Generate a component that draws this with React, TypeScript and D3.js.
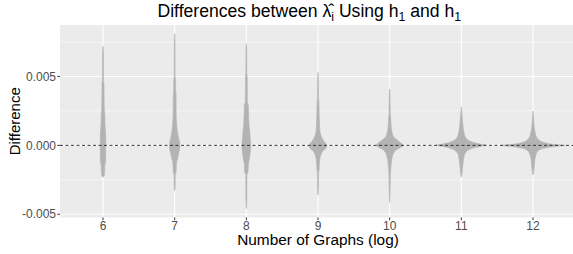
import React from "react";
import * as d3 from "d3";

// ---- data ----
const categories = ["6", "7", "8", "9", "10", "11", "12"];
const yTicks = [-0.005, 0, 0.005];
const yTickLabels = ["-0.005", "0.000", "0.005"];
const yMinorTicks = [-0.0025, 0.0025, 0.0075];

// violin profiles: [difference (x1e-3), relative density]
const violin6: [number, number][] = [[7.2,0],[6.8,0.9],[5.5,1.1],[4.7,1.2],[4.5,2.0],[3.5,2.2],[2.6,2.6],[2.2,3.6],[1.5,4.0],[1.2,4.8],[0.5,5.5],[-0.3,5.5],[-1.2,5.2],[-1.4,3.6],[-2.0,3.2],[-2.25,2.0],[-2.3,0]];
const violin7: [number, number][] = [[8.1,0],[7.5,0.8],[5.0,0.9],[4.7,1.8],[3.9,2.0],[3.7,2.8],[2.2,3.0],[1.6,4.0],[1.0,5.5],[0.6,7.5],[0.2,10.0],[-0.1,10.5],[-0.5,8.5],[-1.0,5.5],[-1.3,3.5],[-2.0,2.8],[-2.1,1.2],[-3.0,1.0],[-3.3,0]];
const violin8: [number, number][] = [[7.4,0],[7.0,0.8],[5.2,1.0],[5.0,1.8],[3.1,2.0],[3.0,3.8],[2.2,4.5],[1.4,5.5],[1.0,6.8],[0.4,8.0],[-0.1,9.0],[-0.6,7.5],[-1.1,5.5],[-1.3,4.2],[-2.0,3.2],[-2.1,1.2],[-4.0,1.0],[-4.6,0]];
const violin9: [number, number][] = [[5.3,0],[4.8,0.8],[3.4,1.0],[3.2,1.8],[2.0,2.5],[1.0,4.0],[0.6,7.0],[0.35,11.0],[0.15,15.0],[0.0,17.5],[-0.2,16.0],[-0.45,9.0],[-0.7,5.5],[-1.2,3.0],[-1.8,2.0],[-2.0,1.2],[-3.2,0.9],[-3.6,0]];
const violin10: [number, number][] = [[4.1,0],[3.6,0.8],[2.2,1.2],[2.0,2.2],[1.35,3.0],[0.9,5.0],[0.6,8.0],[0.3,18.0],[0.1,25.0],[0.0,27.0],[-0.1,24.0],[-0.3,14.0],[-0.55,8.0],[-0.8,5.5],[-1.2,3.5],[-1.6,2.5],[-2.0,1.5],[-3.5,0.9],[-4.15,0]];
const violin11: [number, number][] = [[2.8,0],[2.4,1.0],[1.6,2.8],[1.2,4.0],[0.9,5.5],[0.6,8.0],[0.4,13.0],[0.2,25.0],[0.08,40.0],[0.02,50.0],[-0.05,42.0],[-0.15,28.0],[-0.3,16.0],[-0.55,8.0],[-0.8,5.5],[-1.2,3.8],[-1.6,2.5],[-2.0,1.5],[-2.3,0]];
const violin12: [number, number][] = [[2.5,0],[2.1,1.0],[1.4,2.2],[0.9,4.5],[0.6,7.0],[0.4,11.0],[0.2,22.0],[0.1,35.0],[0.03,55.0],[0.0,64.5],[-0.05,50.0],[-0.12,35.0],[-0.25,18.0],[-0.45,9.0],[-0.8,5.0],[-1.2,3.2],[-1.5,2.5],[-1.9,1.3],[-2.15,0]];
const violins = [violin6, violin7, violin8, violin9, violin10, violin11, violin12];

const W = 573, H = 254;
const M = { left: 60, top: 25, right: 576, bottom: 217.5 };
const FONT = "'Liberation Sans', Arial, sans-serif";

export default function App() {
  const x = d3.scaleLinear().domain([0.4, categories.length + 0.6]).range([M.left, M.right]);
  const allV = violins.flat().map((d) => d[0] / 1000);
  const [lo, hi] = d3.extent(allV) as [number, number];
  const pad = (hi - lo) * 0.05;
  const y = d3.scaleLinear().domain([lo - pad, hi + pad]).range([M.bottom, M.top]);
  const maxD = d3.max(violins.flat(), (d) => d[1]) as number;
  const band = x(2) - x(1);
  const w = d3.scaleLinear().domain([0, maxD]).range([0, band * 0.45]);

  const area = (cx: number) =>
    d3
      .area<[number, number]>()
      .y((d) => y(d[0] / 1000))
      .x0((d) => cx - w(d[1]))
      .x1((d) => cx + w(d[1]))
      .curve(d3.curveMonotoneY);

  return (
    <svg width={W} height={H} style={{ position: "fixed", left: 0, top: 0, background: "#fff" }} fontFamily={FONT}>
      <defs>
        <clipPath id="panel">
          <rect x={M.left} y={M.top} width={M.right - M.left} height={M.bottom - M.top} />
        </clipPath>
      </defs>
      <rect x={M.left} y={M.top} width={M.right - M.left} height={M.bottom - M.top} fill="#EBEBEB" />
      <g clipPath="url(#panel)">
        {yMinorTicks.map((t) => (
          <line key={"mn" + t} x1={M.left} x2={M.right} y1={y(t)} y2={y(t)} stroke="#fff" strokeWidth={0.55} />
        ))}
        {yTicks.map((t) => (
          <line key={"mj" + t} x1={M.left} x2={M.right} y1={y(t)} y2={y(t)} stroke="#fff" strokeWidth={1.1} />
        ))}
        {categories.map((c, i) => (
          <line key={"vx" + c} x1={x(i + 1)} x2={x(i + 1)} y1={M.top} y2={M.bottom} stroke="#fff" strokeWidth={1.1} />
        ))}
        {violins.map((v, i) => (
          <path key={"v" + i} d={area(x(i + 1))(v) || ""} fill="#B3B3B3" stroke="#B3B3B3" strokeWidth={0.6} />
        ))}
        <line x1={M.left} x2={M.right} y1={y(0)} y2={y(0)} stroke="#222" strokeWidth={0.9} strokeDasharray="3 2.5" />
      </g>
      {/* y axis */}
      {yTicks.map((t, i) => (
        <g key={"yt" + t}>
          <line x1={M.left - 2.7} x2={M.left} y1={y(t)} y2={y(t)} stroke="#333" strokeWidth={1} />
          <text x={M.left - 4} y={y(t)} dy="0.35em" textAnchor="end" fontSize={12} fill="#4D4D4D">
            {yTickLabels[i]}
          </text>
        </g>
      ))}
      {/* x axis */}
      {categories.map((c, i) => (
        <g key={"xt" + c}>
          <line x1={x(i + 1)} x2={x(i + 1)} y1={M.bottom} y2={M.bottom + 2.7} stroke="#333" strokeWidth={1} />
          <text x={x(i + 1)} y={229.5} textAnchor="middle" fontSize={12} fill="#4D4D4D">
            {c}
          </text>
        </g>
      ))}
      <text x={(M.left + M.right) / 2} y={245} textAnchor="middle" fontSize={15.4} fill="#000">
        Number of Graphs (log)
      </text>
      <text transform={`translate(20,${(M.top + M.bottom) / 2}) rotate(-90)`} textAnchor="middle" fontSize={15} fill="#000">
        Difference
      </text>
      <text x={157.5} y={16.7} fontSize={17.6} fill="#000">
        <tspan>Differences between λ̂</tspan>
        <tspan fontSize={12.3} dy={4}>i</tspan>
        <tspan dy={-4}> Using h</tspan>
        <tspan fontSize={12.3} dy={4}>1</tspan>
        <tspan dy={-4}> and h</tspan>
        <tspan fontSize={12.3} dy={4}>1</tspan>
      </text>
    </svg>
  );
}
